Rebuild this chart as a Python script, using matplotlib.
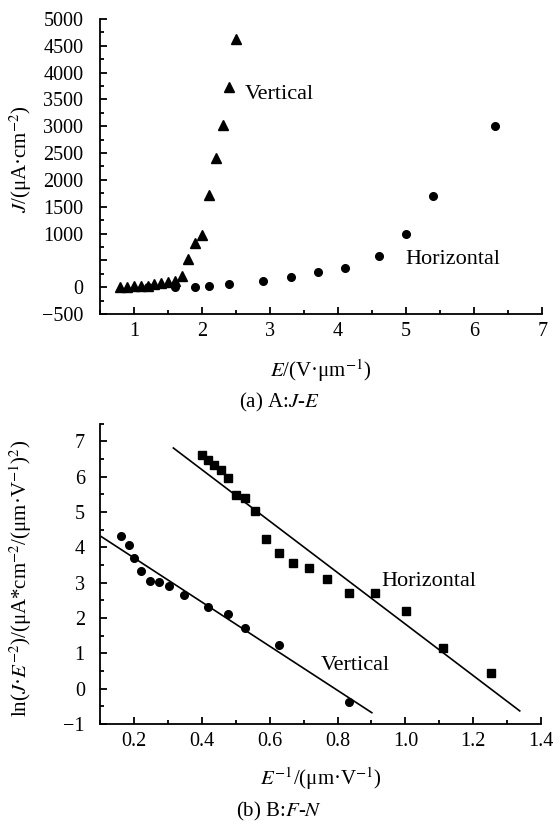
import numpy as np
import matplotlib
matplotlib.use("Agg")
import matplotlib.pyplot as plt
from matplotlib.ticker import MultipleLocator, FuncFormatter

plt.rcParams['font.family'] = ['Liberation Serif', 'DejaVu Serif']
plt.rcParams['mathtext.fontset'] = 'stix'
plt.rcParams['font.size'] = 14

# (a) J-E data
E_vert = [0.8, 0.9, 1.0, 1.1, 1.2, 1.3, 1.4, 1.5, 1.6, 1.7, 1.8, 1.9, 2.0,
          2.1, 2.2, 2.3, 2.4, 2.5]
J_vert = [0, 0, 30, 30, 30, 50, 75, 90, 120, 215, 520, 815, 965,
          1720, 2410, 3020, 3725, 4630]
E_horz = [1.2, 1.6, 1.9, 2.1, 2.4, 2.9, 3.3, 3.7, 4.1, 4.6, 5.0, 5.4, 6.3]
J_horz = [0, 0, 10, 30, 55, 110, 190, 275, 355, 590, 995, 1700, 3000]

# (b) F-N data
invE_sq = [0.401, 0.419, 0.437, 0.456, 0.478, 0.501, 0.527, 0.556, 0.589,
           0.626, 0.668, 0.716, 0.769, 0.835, 0.910, 1.001, 1.112, 1.252]
lnJ_sq = [6.60, 6.47, 6.33, 6.20, 5.95, 5.47, 5.39, 5.03, 4.24,
          3.85, 3.56, 3.41, 3.10, 2.70, 2.70, 2.19, 1.16, 0.44]
invE_ci = [0.161, 0.186, 0.201, 0.220, 0.246, 0.273, 0.304, 0.347, 0.418,
           0.477, 0.527, 0.626, 0.835]
lnJ_ci = [4.32, 4.06, 3.69, 3.33, 3.05, 3.02, 2.91, 2.65, 2.31,
          2.12, 1.71, 1.23, -0.37]
fit_sq_x = [0.316, 1.337]
fit_sq_y = [6.81, -0.63]
fit_ci_x = [0.104, 0.901]
fit_ci_y = [4.30, -0.68]

TICK_FS = 14.5
LABEL_FS = 15
NOTE_FS = 16


def style_axes(ax, ypad):
    for s in ['top', 'right']:
        ax.spines[s].set_visible(False)
    for s in ['left', 'bottom']:
        ax.spines[s].set_linewidth(1.3)
    ax.tick_params(which='both', direction='in', width=1.3, labelsize=TICK_FS)
    ax.tick_params(which='major', length=5)
    ax.tick_params(which='minor', length=3)
    ax.tick_params(axis='x', which='major', pad=5.5)
    ax.tick_params(axis='y', which='major', pad=ypad)


fig = plt.figure(figsize=(5.59, 8.23), dpi=100)

# ---- top panel
ax1 = fig.add_axes([0.179, 0.6185, 0.791, 0.3585])
ax1.plot(E_vert, J_vert, '^', color='black', ms=6.5, clip_on=False)
ax1.plot(E_horz, J_horz, 'o', color='black', ms=5.5, clip_on=False)
ax1.set_xlim(0.5, 7)
ax1.set_ylim(-500, 5000)
ax1.xaxis.set_major_locator(MultipleLocator(1))
ax1.xaxis.set_minor_locator(MultipleLocator(0.5))
ax1.yaxis.set_major_locator(MultipleLocator(500))
ax1.yaxis.set_minor_locator(MultipleLocator(250))
ax1.yaxis.set_major_formatter(FuncFormatter(
    lambda v, p: '' if abs(v - 500) < 1 else '%d' % v if v >= 0 else '\u2212%d' % -v))
style_axes(ax1, 12)
ax1.text(2.62, 3600, 'Vertical', fontsize=NOTE_FS, va='center')
ax1.text(4.99, 520, 'Horizontal', fontsize=NOTE_FS, va='center')
ax1.set_xlabel(r'$E$/(V·μm$^{-1}$)', fontsize=LABEL_FS)
ax1.xaxis.set_label_coords(0.5, -0.147)
ax1.set_ylabel(r'$J$/(μA·cm$^{-2}$)', fontsize=LABEL_FS)
ax1.yaxis.set_label_coords(-0.15, 0.525)
fig.text(0.5, 1 - 402 / 823, r'(a) A:$J$-$E$', ha='center', va='center', fontsize=LABEL_FS)

# ---- bottom panel
ax2 = fig.add_axes([0.179, 0.1203, 0.789, 0.365])
ax2.plot(invE_sq, lnJ_sq, 's', color='black', ms=5.5, clip_on=False)
ax2.plot(invE_ci, lnJ_ci, 'o', color='black', ms=5.5, clip_on=False)
ax2.plot(fit_sq_x, fit_sq_y, color='black', lw=1.2)
ax2.plot(fit_ci_x, fit_ci_y, color='black', lw=1.2)
ax2.set_xlim(0.1, 1.4)
ax2.set_ylim(-1, 7.5)
ax2.xaxis.set_major_locator(MultipleLocator(0.2))
ax2.xaxis.set_minor_locator(MultipleLocator(0.1))
ax2.set_yticks([-1, 0, 1, 2, 3, 4, 5, 6, 7])
ax2.yaxis.set_minor_locator(MultipleLocator(0.5))
ax2.xaxis.set_major_formatter(FuncFormatter(lambda v, p: '%.1f' % v))
style_axes(ax2, 11)
ax2.text(0.928, 3.02, 'Horizontal', fontsize=NOTE_FS, va='center')
ax2.text(0.751, 0.66, 'Vertical', fontsize=NOTE_FS, va='center')
ax2.set_xlabel(r'$E^{-1}$/(μm·V$^{-1}$)', fontsize=LABEL_FS)
ax2.xaxis.set_label_coords(0.5, -0.138)
ax2.set_ylabel(r'ln($J$·$E^{-2}$)/(μA*cm$^{-2}$/(μm·V$^{-1}$)$^{2}$)', fontsize=LABEL_FS)
ax2.yaxis.set_label_coords(-0.15, 0.485)
fig.text(0.5, 1 - 811 / 823, r'(b) B:$F$-$N$', ha='center', va='center', fontsize=LABEL_FS)

fig.savefig('out.png', dpi=100)
